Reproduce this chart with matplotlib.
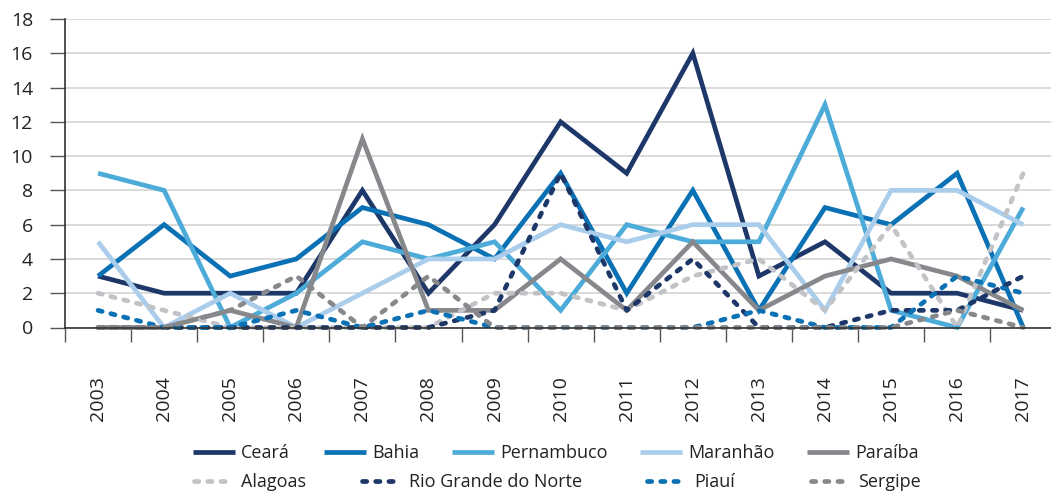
import matplotlib
matplotlib.use("Agg")
import matplotlib.pyplot as plt
from matplotlib.ticker import FixedLocator, NullFormatter

plt.rcParams['font.family'] = ['Open Sans', 'DejaVu Sans']

years = ["2003", "2004", "2005", "2006", "2007", "2008", "2009", "2010",
         "2011", "2012", "2013", "2014", "2015", "2016", "2017"]

ceara = [3, 2, 2, 2, 8, 2, 6, 12, 9, 16, 3, 5, 2, 2, 1]
bahia = [3, 6, 3, 4, 7, 6, 4, 9, 2, 8, 1, 7, 6, 9, 0]
pernambuco = [9, 8, 0, 2, 5, 4, 5, 1, 6, 5, 5, 13, 1, 0, 7]
maranhao = [5, 0, 2, 0, 2, 4, 4, 6, 5, 6, 6, 1, 8, 8, 6]
paraiba = [0, 0, 1, 0, 11, 1, 1, 4, 1, 5, 1, 3, 4, 3, 1]
alagoas = [2, 1, 0, 0, 0, 0, 2, 2, 1, 3, 4, 1, 6, 0, 9]
rio_grande_do_norte = [0, 0, 0, 0, 0, 0, 1, 9, 1, 4, 0, 0, 1, 1, 3]
piaui = [1, 0, 0, 1, 0, 1, 0, 0, 0, 0, 1, 0, 0, 3, 2]
sergipe = [0, 0, 1, 3, 0, 3, 0, 0, 0, 0, 0, 0, 0, 1, 0]

series = [
    ("Ceará", ceara, "#1d3769", "solid"),
    ("Bahia", bahia, "#0a71b4", "solid"),
    ("Pernambuco", pernambuco, "#4cabd8", "solid"),
    ("Maranhão", maranhao, "#aacdec", "solid"),
    ("Paraíba", paraiba, "#87888b", "solid"),
    ("Alagoas", alagoas, "#c2c3c7", "dash"),
    ("Rio Grande do Norte", rio_grande_do_norte, "#1d3769", "dash"),
    ("Piauí", piaui, "#0a71b4", "dash"),
    ("Sergipe", sergipe, "#87888b", "dash"),
]

W, H = 1051, 492
fig = plt.figure(figsize=(W / 100, H / 100), dpi=100)
ax = fig.add_axes([65 / W, 1 - 327.5 / H, 1 - 65 / W, (327.5 - 19) / H])

x = list(range(len(years)))
LW = 3.4
lines = []
for name, vals, col, style in series:
    if style == "solid":
        ln, = ax.plot(x, vals, color=col, lw=LW, solid_joinstyle='miter',
                      solid_capstyle='butt', clip_on=False, label=name)
    else:
        ln, = ax.plot(x, vals, color=col, lw=LW, linestyle=(0, (0.9, 1.9)),
                      dash_capstyle='round', clip_on=False, label=name)
    lines.append(ln)

ax.set_xlim(-0.5, 14.42)
ax.set_ylim(0, 18)
ax.set_yticks(range(0, 19, 2))
ax.yaxis.grid(True, color="#d4d4d4", lw=1.2)
ax.set_axisbelow(True)

ax.xaxis.set_major_locator(FixedLocator([i - 0.5 for i in range(len(years) + 1)]))
ax.xaxis.set_major_formatter(NullFormatter())
ax.xaxis.set_minor_locator(FixedLocator(x))
ax.set_xticklabels(years, minor=True, rotation=90, fontsize=14, color="#222222")
ax.tick_params(axis='x', which='major', length=10, width=1.0, color="#555555", direction='out')
ax.tick_params(axis='x', which='minor', length=0, pad=35)
ax.tick_params(axis='y', length=11, width=1.0, color="#555555", labelsize=14,
               labelcolor="#222222", pad=12)

for s in ['top', 'right']:
    ax.spines[s].set_visible(False)
for s in ['left', 'bottom']:
    ax.spines[s].set_color("#333333")
    ax.spines[s].set_linewidth(1.2)

# legend entries placed individually
leg_pos = [(193, 453), (324, 453), (452, 453), (640, 453), (807, 453),
           (194, 482), (362, 482), (647, 482), (811, 482)]
for (ln, (px, py)), (_, _, _, style) in zip(zip(lines, leg_pos), series):
    hl = 2.3 if style == "solid" else 2.0
    tp = 0.35 if style == "solid" else 0.6
    lg = fig.legend([ln], [ln.get_label()], loc='center left',
                    bbox_to_anchor=(px / W, 1 - py / H), frameon=False,
                    borderpad=0, borderaxespad=0, handlelength=hl,
                    handletextpad=tp, fontsize=13)
    for t in lg.get_texts():
        t.set_color("#222222")

fig.savefig("out.png", dpi=100)
